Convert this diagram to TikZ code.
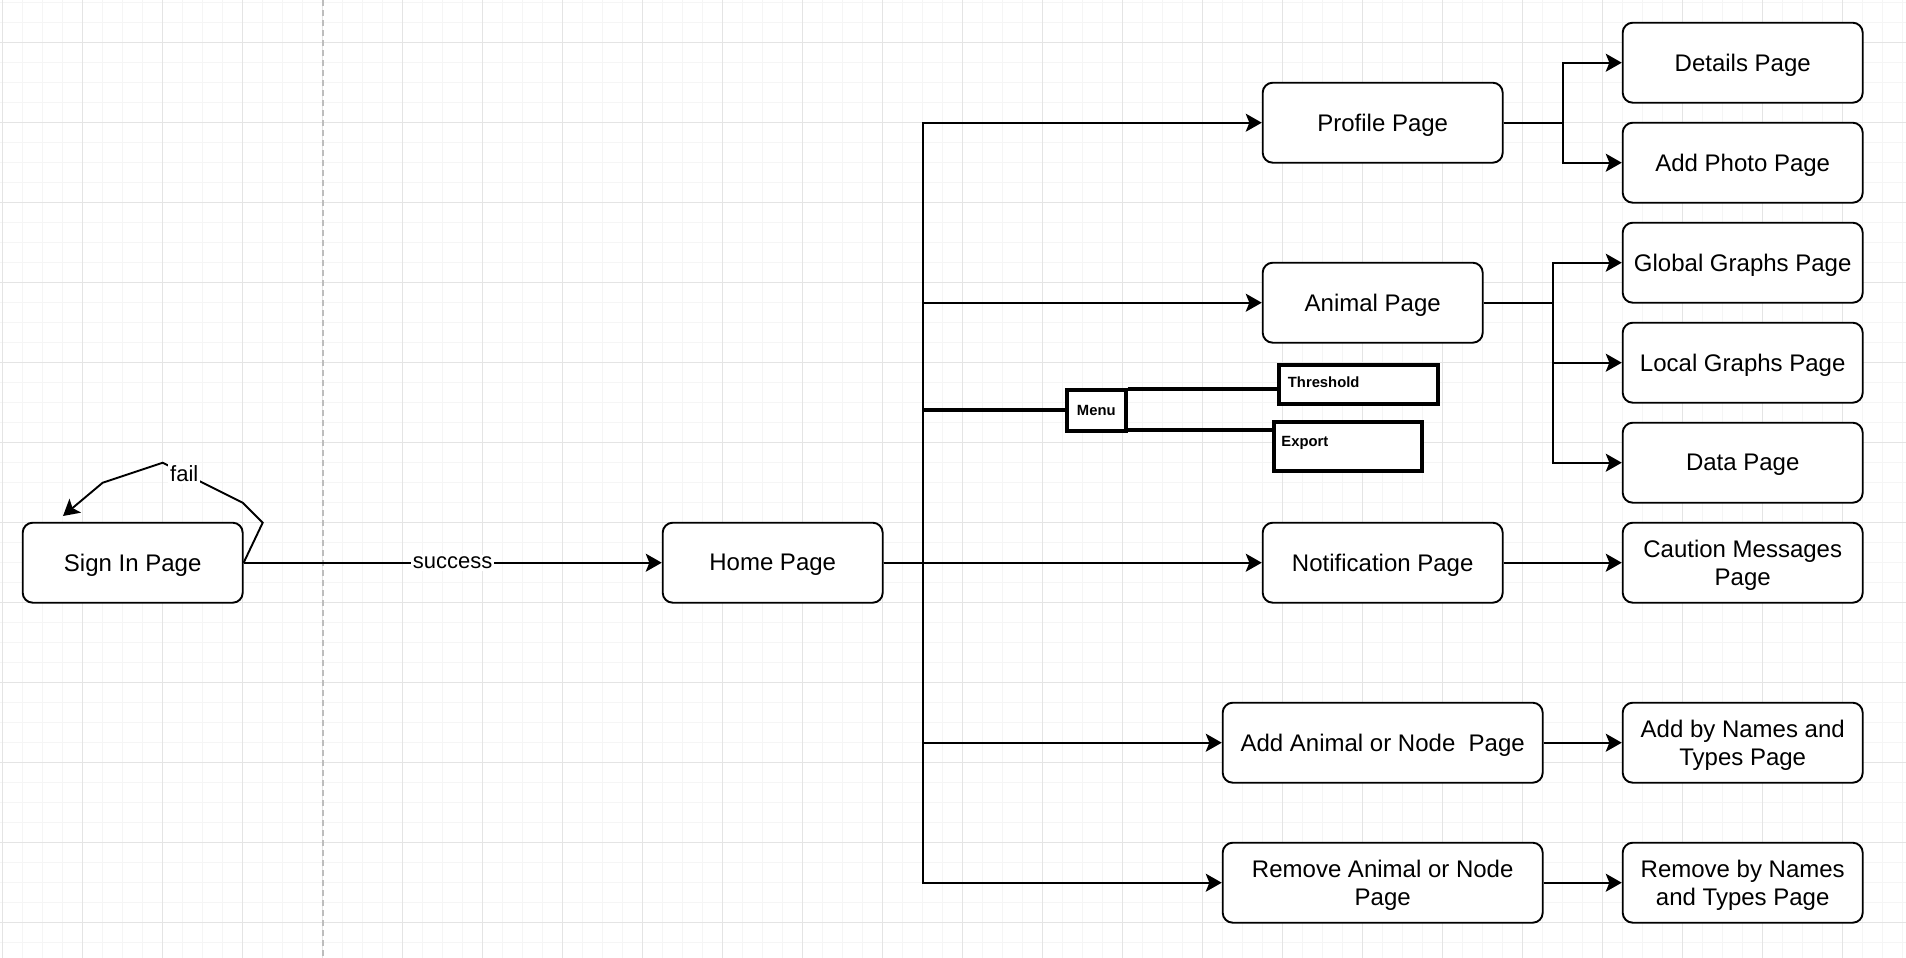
\documentclass[tikz,border=0pt]{standalone}
\usepackage{fontspec}
\setmainfont{Liberation Sans}
\usetikzlibrary{arrows.meta,calc}
\definecolor{minorgrid}{HTML}{F5F5F5}
\definecolor{majorgrid}{HTML}{E4E4E4}
\definecolor{dashgrey}{HTML}{BDBDBD}
\begin{document}
\begin{tikzpicture}[x=0.5pt,y=-0.5pt,
  pagebox/.style={draw=black, line width=0.95pt, rounded corners=5pt, fill=white,
    minimum height=40pt, inner sep=2pt, align=center, text depth=0pt,
    font=\fontsize{12}{13.7}\selectfont},
  w220/.style={minimum width=110pt},
  w240/.style={minimum width=120pt},
  w320/.style={minimum width=160pt},
  arr/.style={draw=black, line width=0.95pt, -{Stealth[length=8pt,width=9pt,inset=1.8pt]}},
  conn/.style={draw=black, line width=0.95pt},
  edgelbl/.style={fill=white, inner sep=1pt, font=\fontsize{11}{13}\selectfont},
  thickbox/.style={draw=black, line width=2pt, fill=white, inner sep=0pt},
  thk/.style={draw=black, line width=2pt},
  smallbold/.style={font=\bfseries\fontsize{7.4}{8.8}\selectfont, inner sep=0pt}
]
% background and grid
\useasboundingbox (0,0) rectangle (1906,958);
\fill[white] (0,0) rectangle (1906,958);
\foreach \i in {0,...,95} \draw[minorgrid, line width=0.6pt] ({2.7+20*\i},0) -- ({2.7+20*\i},958);
\foreach \j in {0,...,47} \draw[minorgrid, line width=0.6pt] (0,{2.7+20*\j}) -- (1906,{2.7+20*\j});
\foreach \i in {0,...,23} \draw[majorgrid, line width=0.7pt] ({2.7+80*\i},0) -- ({2.7+80*\i},958);
\foreach \j in {0,...,11} \draw[majorgrid, line width=0.7pt] (0,{42.7+80*\j}) -- (1906,{42.7+80*\j});
\draw[dashgrey, line width=1pt, dash pattern=on 3pt off 2pt] (322.7,0) -- (322.7,958);

% nodes
\node[pagebox,w220] (signin) at (132.7,562.7) {Sign In Page};
\node[pagebox,w220] (home) at (772.7,562.7) {Home Page};
\node[pagebox,w240] (profile) at (1382.7,122.7) {Profile Page};
\node[pagebox,w220] (animal) at (1372.7,302.7) {Animal Page};
\node[pagebox,w240] (notif) at (1382.7,562.7) {Notification Page};
\node[pagebox,w320] (addan) at (1382.7,742.7) {Add Animal or Node\ \ Page};
\node[pagebox,w320] (reman) at (1382.7,882.7) {Remove Animal or Node\\Page};
\node[pagebox,w240] (details) at (1742.7,62.7) {Details Page};
\node[pagebox,w240] (photo) at (1742.7,162.7) {Add Photo Page};
\node[pagebox,w240] (global) at (1742.7,262.7) {Global Graphs Page};
\node[pagebox,w240] (local) at (1742.7,362.7) {Local Graphs Page};
\node[pagebox,w240] (data) at (1742.7,462.7) {Data Page};
\node[pagebox,w240] (caution) at (1742.7,562.7) {Caution Messages\\Page};
\node[pagebox,w240] (addby) at (1742.7,742.7) {Add by Names and\\Types Page};
\node[pagebox,w240] (remby) at (1742.7,882.7) {Remove by Names\\and Types Page};

% menu group
\node[thickbox, minimum width=29.25pt, minimum height=20.5pt, smallbold] (menu) at (1096.3,410) {Menu};
\node[thickbox, minimum width=79.5pt, minimum height=19.75pt] (threshold) at (1358.5,384.7) {};
\node[thickbox, minimum width=74.25pt, minimum height=24.75pt] (export) at (1347.8,446.3) {};
\node[smallbold, anchor=west] (thresholdlbl) at (1287.5,382.5) {Threshold};
\node[smallbold, anchor=west] (exportlbl) at (1281,442.5) {Export};

% coordinates
\coordinate (tr) at (922.7,562.7);
\coordinate (mj) at (922.7,410);
\coordinate (pb) at (1562.7,122.7);
\coordinate (ab) at (1552.7,302.7);
\coordinate (failend) at (63,516);
\coordinate (m1) at ([yshift=-0.6pt]menu.north east);
\coordinate (m2) at ([yshift=1.1pt]menu.south east);

% connectors
\draw[arr] (signin.east) -- node[edgelbl]{success} (home.west);
\draw[arr] (signin.east) -- (262.7,522.7) -- (242.7,502.7)
   -- node[edgelbl, pos=0.73]{fail} (162.7,462.7) -- (102.7,482.7) -- (failend);
\draw[arr] (home.east) -- (notif.west);
\draw[arr] (home.east) -- (tr) |- (profile.west);
\draw[arr] (home.east) -- (tr) |- (animal.west);
\draw[arr] (home.east) -- (tr) |- (addan.west);
\draw[arr] (home.east) -- (tr) |- (reman.west);
\draw[thk] (mj) -- (menu.west);
\draw[thk] (m1) -- (m1 -| threshold.west);
\draw[thk] (m2) -- (m2 -| export.west);

\draw[conn] (profile.east) -- (pb);
\draw[arr] (pb) |- (details.west);
\draw[arr] (pb) |- (photo.west);
\draw[conn] (animal.east) -- (ab);
\draw[arr] (ab) |- (global.west);
\draw[arr] (ab) |- (local.west);
\draw[arr] (ab) |- (data.west);
\draw[arr] (notif.east) -- (caution.west);
\draw[arr] (addan.east) -- (addby.west);
\draw[arr] (reman.east) -- (remby.west);
\end{tikzpicture}
\end{document}
